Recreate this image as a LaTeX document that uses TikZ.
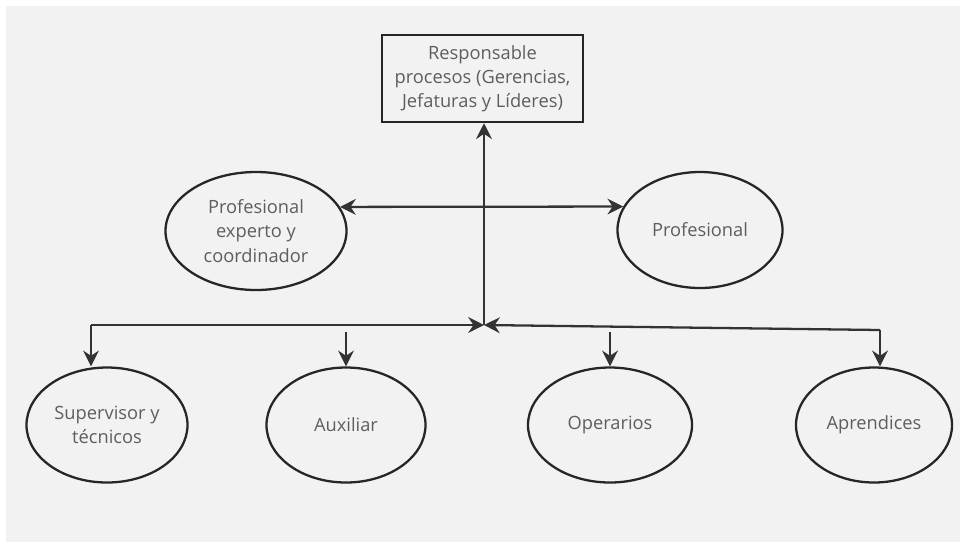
\documentclass[tikz,border=0pt]{standalone}
\usepackage{fontspec}
\setmainfont{Open Sans}
\usepackage{tikz}
\usetikzlibrary{arrows.meta}
\usetikzlibrary{shapes.geometric}
\definecolor{bggray}{HTML}{F2F2F2}
\definecolor{txtgray}{HTML}{5E5E5E}
\tikzset{
  role/.style={ellipse, draw=black!85, line width=1.3pt, inner sep=0pt, align=center,
    font=\fontsize{10.4}{14}\selectfont, text=txtgray},
  link/.style={line width=1.3pt, draw=black!80},
  tip/.tip={Stealth[length=9pt,width=9pt,inset=3pt]}
}

\begin{document}
\begin{tikzpicture}
    \useasboundingbox (0, 0) rectangle (19.32, -10.96);
    \fill [white] (0, 0) rectangle (19.32, -10.96);
    \fill [bggray] (0.12, -0.12) rectangle (19.2, -10.84);

    \node [draw=black!85, line width=1.4pt, minimum width=4.02cm, minimum height=1.74cm, inner sep=0pt,
      align=center, font=\fontsize{10.4}{13.6}\selectfont, text=txtgray] (resp) at (9.65, -1.57)
      {Responsable\\procesos (Gerencias,\\Jefaturas y Líderes)};

    \node [role, minimum width=3.62cm, minimum height=2.36cm] (expert) at (5.12, -4.62) {Profesional\\experto y\\coordinador};
    \node [role, minimum width=3.3cm, minimum height=2.32cm] (prof) at (14.0, -4.6) {Profesional};

    \node [role, minimum width=3.22cm, minimum height=2.3cm] (sup) at (2.14, -8.5) {Supervisor y\\técnicos};
    \node [role, minimum width=3.18cm, minimum height=2.3cm] (aux) at (6.92, -8.5) {Auxiliar};
    \node [role, minimum width=3.28cm, minimum height=2.3cm] (oper) at (12.2, -8.5) {Operarios};
    \node [role, minimum width=3.12cm, minimum height=2.3cm] (apr) at (17.48, -8.5) {Aprendices};

    \coordinate (hub) at (9.68, -6.5);
    \coordinate (busL) at (1.82, -6.5);
    \coordinate (busR) at (17.6, -6.6);

    \draw [link, -tip] (hub) -- (hub |- resp.south);
    \draw [link, tip-tip] (expert.16) -- (prof.163);

    \draw [link, -tip] (busL) -- (hub);
    \draw [link, -tip] (busR) -- (hub);

    \draw [link, -tip] (busL) -- (busL |- sup.north);
    \draw [link, tip-] (aux.north) -- ++(0, 0.68);
    \draw [link, tip-] (oper.north) -- ++(0, 0.68);
    \draw [link, -tip] (busR) -- (busR |- apr.north);
  \end{tikzpicture}
\end{document}
